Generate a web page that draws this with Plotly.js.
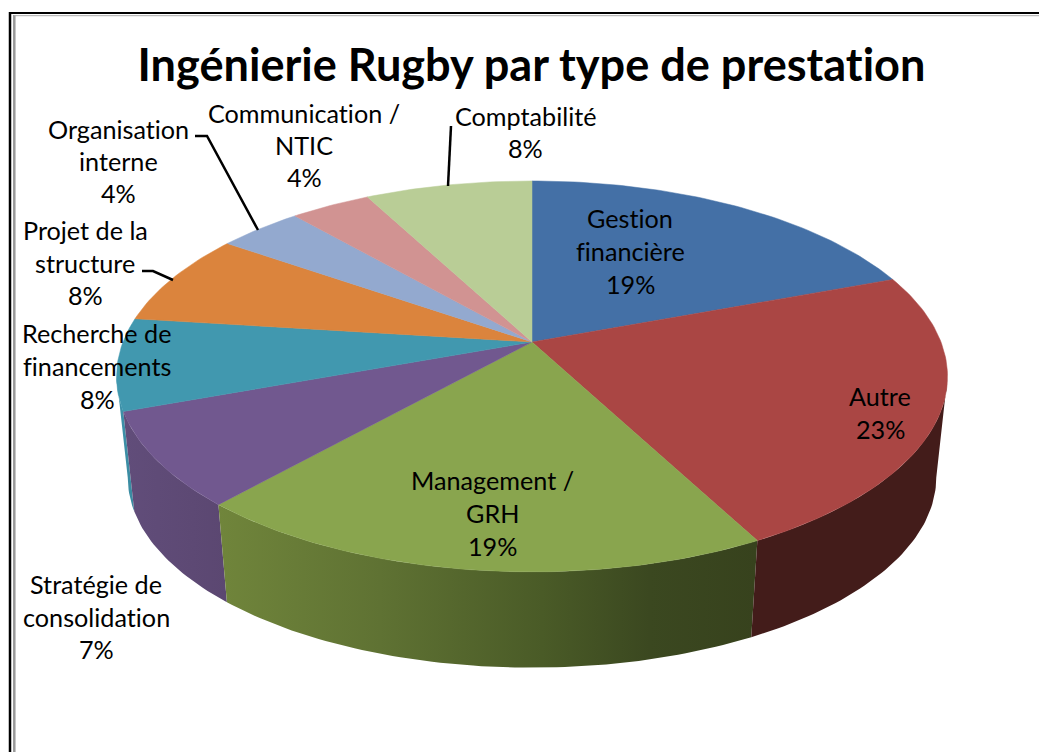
<!DOCTYPE html>
<html>
<head>
<meta charset="utf-8">
<script src="https://cdn.plot.ly/plotly-3.0.1.min.js"></script>
<style>html,body{margin:0;padding:0;background:#fff;overflow:hidden}#chart{width:1039px;height:752px}text{font-variant-ligatures:none;font-feature-settings:"liga" 0}</style>
</head>
<body>
<div id="chart"></div>
<script>
// Data (share of the pie, in %)
const categories = ["Gestion financière","Autre","Management / GRH","Stratégie de consolidation","Recherche de financements","Projet de la structure","Organisation interne","Communication / NTIC","Comptabilité"];
const values = [19.3,23.0,19.3,7.8,7.6,7.7,3.9,3.7,7.7];
const percentLabels = ["19%","23%","19%","7%","8%","8%","4%","4%","8%"];
const labelLines = [["Gestion","financière"],["Autre"],["Management /","GRH"],["Stratégie de","consolidation"],["Recherche de","financements"],["Projet de la","structure"],["Organisation","interne"],["Communication /","NTIC"],["Comptabilité"]];
const topColors = ["#4470a6","#aa4644","#89a54e","#71588f","#4198af","#db843d","#93a9cf","#d19392","#b9cd96"];
const wallScales = [
  [[0,"#2a4468"],[1,"#2a4468"]],
  [[0,"#431c1a"],[1,"#431c1a"]],
  [[0,"#70853b"],[0.3,"#5f7233"],[0.6,"#4a5b27"],[0.8,"#3b4820"],[1,"#37421d"]],
  [[0,"#614d7a"],[1,"#5b4771"]],
  [[0,"#3f93ab"],[1,"#3a8aa0"]],
  [[0,"#8a5226"],[1,"#8a5226"]],
  [[0,"#5c6a82"],[1,"#5c6a82"]],
  [[0,"#835c5b"],[1,"#835c5b"]],
  [[0,"#74815e"],[1,"#74815e"]]
];
const labelPos = [[630,218,33],[880,396,33],[492,480,33],[96,584,32.5],[97,333,33],[85,230,32.5],[118,129,32],[304,113,32],[525,116,32]];
const titleText = "Ingénierie Rugby par type de prestation";

// Perspective view of the pie disc
const view = {cx:532, top:342, bottom:444, rx:409, ry:189.4, k:0.176, wallScale:0.973};
function project(deg, cy, s){
  const a = deg*Math.PI/180, u = Math.sin(a), v = Math.cos(a), d = 1 + view.k*v;
  return [view.cx + s*view.rx*u/d, cy - s*view.ry*v/d];
}
function arc(a0,a1,cy,s){
  const n = Math.max(4,Math.ceil(Math.abs(a1-a0))), pts = [];
  for(let i=0;i<=n;i++) pts.push(project(a0+(a1-a0)*i/n,cy,s));
  return pts;
}
const total = values.reduce((a,b)=>a+b,0);
let run = 0;
const spans = values.map(v=>{const s=[run/total*360,(run+v)/total*360]; run+=v; return s;});
// Only the front of the side wall shows: between the two points where the rim turns back
const rimRight = Math.acos(-view.k)*180/Math.PI, rimLeft = 360-rimRight;

const traces = [];
spans.map((s,i)=>i).sort((a,b)=>b-a).forEach(i=>{
  const a0 = Math.max(spans[i][0],rimRight), a1 = Math.min(spans[i][1],rimLeft);
  if(a1<=a0) return;
  const pts = arc(a0,a1,view.top,1).concat(arc(a0,a1,view.bottom,view.wallScale).reverse());
  pts.push(pts[0]);
  traces.push({type:"scatter",mode:"lines",x:pts.map(p=>p[0]),y:pts.map(p=>p[1]),fill:"toself",
    line:{width:0},
    fillgradient:{type:"horizontal",colorscale:wallScales[i]},hoverinfo:"skip",showlegend:false});
});
spans.forEach((s,i)=>{
  const pts = [[view.cx,view.top]].concat(arc(s[0],s[1],view.top,1)); pts.push(pts[0]);
  traces.push({type:"scatter",mode:"lines",name:categories[i],x:pts.map(p=>p[0]),y:pts.map(p=>p[1]),fill:"toself",
    fillcolor:topColors[i],line:{width:0.5,color:topColors[i]},
    text:categories[i]+" "+percentLabels[i],hoverinfo:"text",showlegend:false});
});

const annotations = [];
const labelFont = {family:"Lato, 'Open Sans', sans-serif",size:25.2,color:"#000"};
labelLines.forEach((lines,i)=>{
  const [x,y,dy] = labelPos[i];
  lines.concat([percentLabels[i]]).forEach((t,j)=>{
    annotations.push({xref:"x",yref:"y",x:x,y:y+j*dy,text:t,showarrow:false,xanchor:"center",yanchor:"middle",font:labelFont});
  });
});

function leader(path){return {type:"path",xref:"x",yref:"y",path:path,line:{color:"#000",width:2.5},layer:"above"};}
function rule(x0,y0,x1,y1,c,w){return {type:"line",xref:"x",yref:"y",x0,y0,x1,y1,line:{color:c,width:w},layer:"below"};}
const shapes = [
  rule(10,12,10,752,"#000",2.5), rule(14.3,15,14.3,752,"#999",2.5),
  rule(9,13,1039,13,"#000",2), rule(14,15.7,1039,15.7,"#aaa",1),
  leader("M195,136 L207,136 L258,230"),
  leader("M142,271 L153,271 L173,280"),
  leader("M451,126 L448,186")
];

const layout = {
  width:1039,height:752,margin:{l:0,r:0,t:0,b:0},paper_bgcolor:"#fff",plot_bgcolor:"#fff",showlegend:false,
  title:{text:"<b>"+titleText+"</b>",x:531.5/1039,xanchor:"center",y:1-65/752,yanchor:"middle",font:{family:"Lato, 'Open Sans', sans-serif",size:45.1,color:"#000"}},
  xaxis:{range:[0,1039],visible:false,fixedrange:true},
  yaxis:{range:[752,0],visible:false,fixedrange:true},
  annotations,shapes
};
Plotly.newPlot("chart",traces,layout,{displayModeBar:false,responsive:false});
</script>
</body>
</html>
